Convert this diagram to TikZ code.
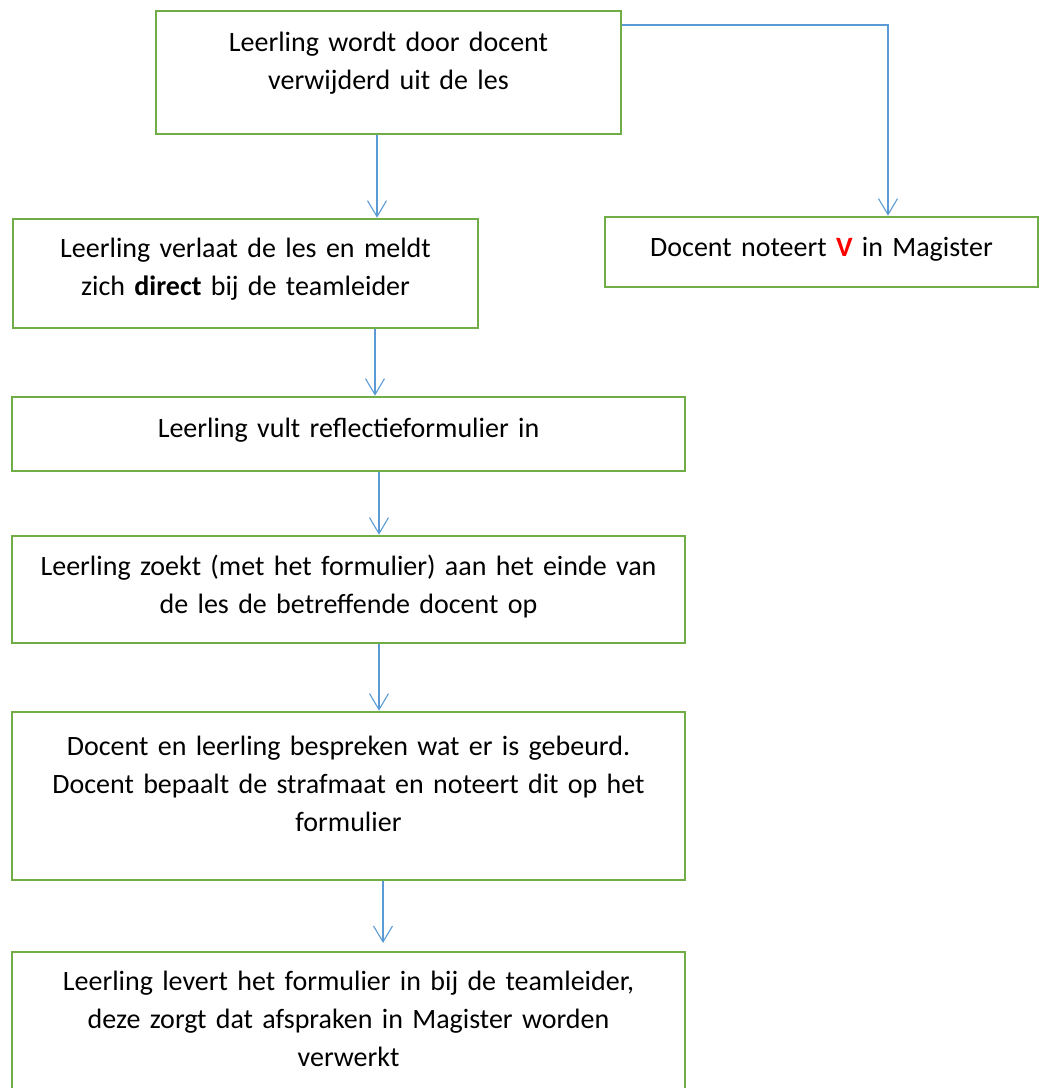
\documentclass[tikz,border=0pt]{standalone}
\usepackage{fontspec}
\setmainfont{Carlito}
\usepackage{xcolor}
\usepackage{tikz}
\usetikzlibrary{arrows.meta}
\definecolor{boxgreen}{HTML}{70AD47}
\definecolor{linkblue}{HTML}{5B9BD5}
\tikzstyle{stepbox} = [rectangle, draw=boxgreen, line width=1.3pt, inner sep=0pt, align=center, anchor=base, font=\fontsize{14pt}{19pt}\selectfont]
\tikzstyle{flowarrow} = [draw=linkblue, line width=0.55pt, -{Straight Barb[length=8pt,width=9.5pt]}]

\begin{document}
\begin{tikzpicture}[x=0.5pt,y=-0.5pt]
        \path[use as bounding box, clip] (0,0) rectangle (1040,1088);
        \node[stepbox, text width=232.5pt, text height=20pt, text depth=41.5pt] (removed) at (388.5,51) {Leerling wordt door docent\\ verwijderd uit de les};
        \node[stepbox, text width=232.5pt, text height=19pt, text depth=35.5pt] (leave) at (245.5,257) {Leerling verlaat de les en meldt\\ zich \textbf{direct} bij de teamleider};
        \node[stepbox, text width=216.5pt, text height=19.5pt, text depth=15.5pt] (magister) at (821.5,256) {Docent noteert \textcolor{red}{\textbf{V}} in Magister};
        \node[stepbox, text width=336.5pt, text height=20pt, text depth=17pt] (reflect) at (348.5,437) {Leerling vult reflectieformulier in};
        \node[stepbox, text width=336.5pt, text height=19.5pt, text depth=34pt] (seek) at (348.5,575) {Leerling zoekt (met het formulier) aan het einde van\\ de les de betreffende docent op};
        \node[stepbox, text width=336.5pt, text height=21.5pt, text depth=62.5pt] (discuss) at (348.5,755) {Docent en leerling bespreken wat er is gebeurd.\\ Docent bepaalt de strafmaat en noteert dit op het\\ formulier};
        \node[stepbox, text width=336.5pt, text height=19pt, text depth=60pt] (handin) at (348.5,990) {Leerling levert het formulier in bij de teamleider,\\ deze zorgt dat afspraken in Magister worden\\ verwerkt};
        % connectors
        \draw[flowarrow] (removed.south -| 377,0) -- (leave.north -| 377,0);
        \draw[flowarrow] (removed.east |- 0,25) -| (magister.north -| 888,0);
        \draw[flowarrow] (leave.south -| 375,0) -- (reflect.north -| 375,0);
        \draw[flowarrow] (reflect.south -| 379,0) -- (seek.north -| 379,0);
        \draw[flowarrow] (seek.south -| 379,0) -- (discuss.north -| 379,0);
        \draw[flowarrow] (discuss.south -| 383,0) -- (383,943);
    \end{tikzpicture}
\end{document}
